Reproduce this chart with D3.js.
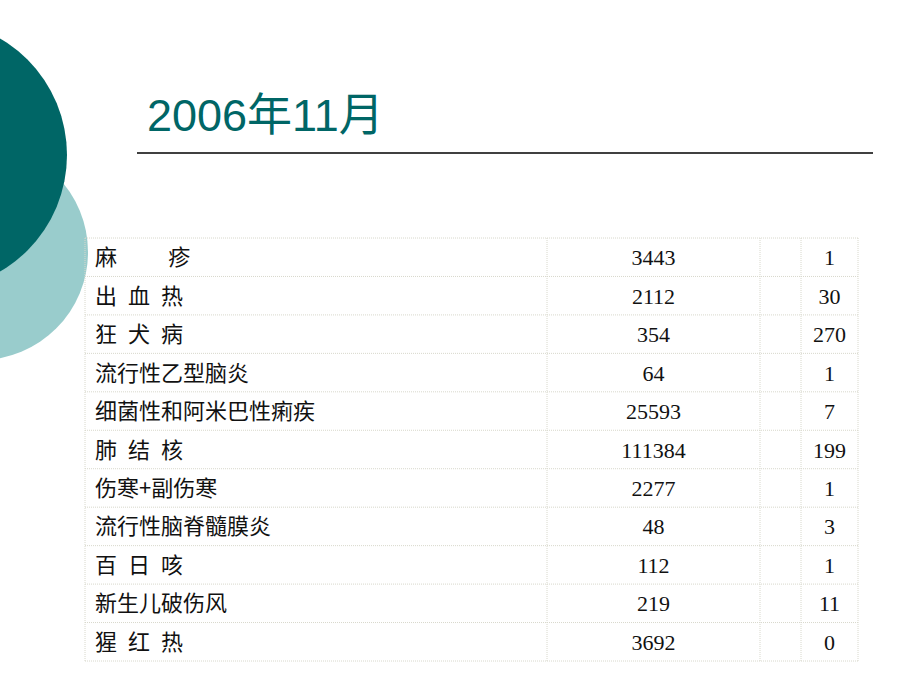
<!DOCTYPE html>
<html><head><meta charset="utf-8">
<script src="https://cdn.jsdelivr.net/npm/d3@7"></script>
<style>body{margin:0;background:#fff}</style>
</head><body><div id="chart"></div>
<script>
var diseases = ["麻\u3000\u3000\u2004疹", "出\u2002血\u2002热", "狂\u2002犬\u2002病", "流行性乙型脑炎", "细菌性和阿米巴性痢疾", "肺\u2002结\u2002核",
  "伤寒+副伤寒", "流行性脑脊髓膜炎", "百\u2002日\u2002咳", "新生儿破伤风", "猩\u2002红\u2002热"];
var cases = [3443, 2112, 354, 64, 25593, 111384, 2277, 48, 112, 219, 3692];
var deaths = [1, 30, 270, 1, 7, 199, 1, 3, 1, 11, 0];

var width = 920, height = 690;
var svg = d3.select("#chart").append("svg").attr("width", width).attr("height", height);

// background circles
svg.append("circle").attr("cx", -20).attr("cy", 252).attr("r", 108).attr("fill", "#99cccc");
svg.append("circle").attr("cx", -68).attr("cy", 155).attr("r", 135).attr("fill", "#006666");

svg.append("text").attr("x", 147).attr("y", 131)
  .attr("font-family", "Liberation Sans, Noto Sans CJK SC").attr("font-size", 45)
  .attr("fill", "#006666").text("2006年11月");
svg.append("line").attr("x1", 137).attr("x2", 873).attr("y1", 153).attr("y2", 153)
  .attr("stroke", "#000").attr("stroke-width", 1.3);

var y = d3.scaleBand().domain(d3.range(diseases.length)).range([238, 661]);
var cols = [85, 547, 760, 801, 858];

var g = svg.append("g");
// grid
y.domain().concat([diseases.length]).forEach(function(i) {
  var yy = i < diseases.length ? y(i) : y.range()[1];
  g.append("line").attr("x1", cols[0]).attr("x2", cols[4]).attr("y1", yy).attr("y2", yy)
    .attr("stroke", "#d8d8cc").attr("stroke-dasharray", "1,1");
});
cols.forEach(function(x) {
  g.append("line").attr("x1", x).attr("x2", x).attr("y1", 238).attr("y2", 661)
    .attr("stroke", "#d8d8cc").attr("stroke-dasharray", "1,1");
});

var rows = g.selectAll(".row").data(diseases).enter().append("g")
  .attr("transform", function(d, i) { return "translate(0," + (y(i) + y.bandwidth() / 2 + 8) + ")"; })
  .attr("font-size", 22).attr("fill", "#111");
rows.append("text").attr("x", 95).attr("font-family", "Noto Sans CJK SC").text(function(d) { return d; });
rows.append("text").attr("x", (cols[1] + cols[2]) / 2).attr("text-anchor", "middle")
  .attr("font-family", "Liberation Serif").text(function(d, i) { return cases[i]; });
rows.append("text").attr("x", (cols[3] + cols[4]) / 2).attr("text-anchor", "middle")
  .attr("font-family", "Liberation Serif").text(function(d, i) { return deaths[i]; });
</script></body></html>
